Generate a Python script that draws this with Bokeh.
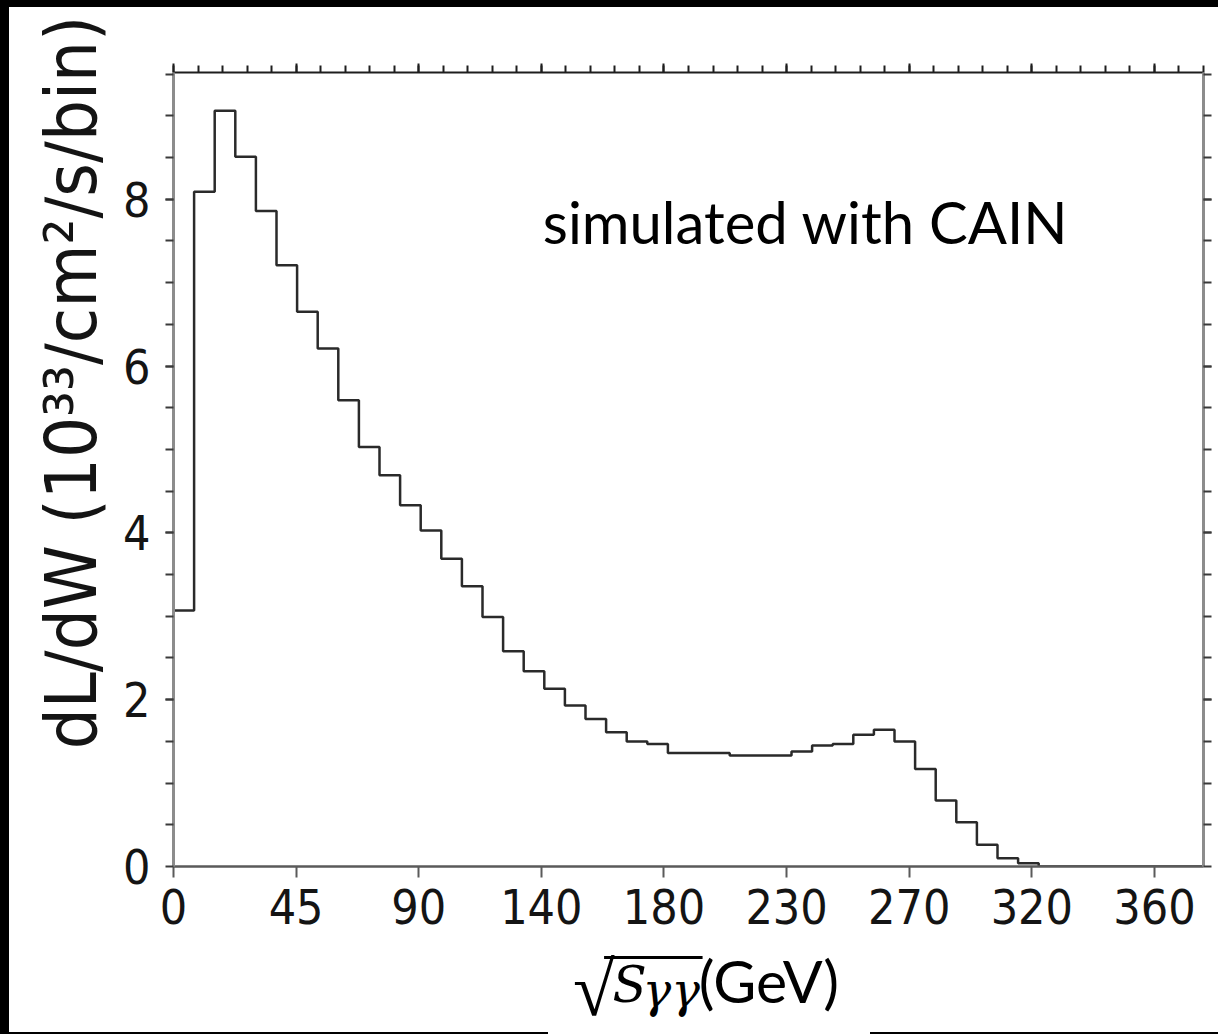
import math
import numpy as np
from bokeh.plotting import figure
from bokeh.models import Range1d, LinearAxis, FixedTicker, Label, BoxAnnotation, Spacer
from bokeh.layouts import row, column
from bokeh.embed import file_html
from bokeh.resources import INLINE

# ---------------- data ----------------
bin_values = [3.07, 8.09, 9.06, 8.51, 7.86, 7.21, 6.65, 6.21, 5.59, 5.03,
              4.69, 4.33, 4.03, 3.69, 3.36, 2.99, 2.58, 2.34, 2.13, 1.93,
              1.77, 1.61, 1.50, 1.47, 1.36, 1.36, 1.36, 1.33, 1.33, 1.33,
              1.38, 1.45, 1.47, 1.58, 1.64, 1.50, 1.17, 0.79, 0.53, 0.26,
              0.10, 0.04, 0.0, 0.0, 0.0, 0.0, 0.0, 0.0, 0.0, 0.0]
x_min, x_max = 0.0, 378.0            # sqrt(s_gg) histogram range (GeV), 50 bins
y_min, y_max = 0.0, 9.52
x_tick_values = [0, 45, 90, 135, 180, 225, 270, 315, 360]
x_tick_labels = ["0", "45", "90", "140", "180", "230", "270", "320", "360"]
y_tick_values = [0, 2, 4, 6, 8]
y_tick_labels = ["0", "2", "4", "6", "8"]
annotation_text = "simulated with CAIN"
y_title = "dL/dW (10\u00b3\u00b3/cm\u00b2/s/bin)"
x_title_parts = ["\u221a", "S", "\u03b3\u03b3", "(GeV)"]

# ---------------- page layout ----------------
PAGE_W, PAGE_H = 1218, 1034
TOP_BAND, LEFT_BAND, BOTTOM_BAND = 7, 9, 2
YT_W = 111                       # strip holding the y-axis title
MAIN_X0 = LEFT_BAND + YT_W       # 120
MAIN_W = PAGE_W - MAIN_X0        # 1098
MAIN_H = 938
XT_H = PAGE_H - TOP_BAND - BOTTOM_BAND - MAIN_H   # 87
ML, MR, MT, MB = 51, 15, 65, 79
FW, FH = MAIN_W - ML - MR, MAIN_H - MT - MB

# vertical centre of a text box above its baseline, in em ("middle" anchor)
MID_LATO = 0.387
MID_DEJAVU = 0.346
MID_LIBSERIF = 0.3375


def main_x(px):
    return x_min + (px - MAIN_X0 - ML) * (x_max - x_min) / FW


def main_y(py):
    return y_min + (TOP_BAND + MT + FH - py) * (y_max - y_min) / FH


TICK_FONT = "'DejaVu Sans Condensed', 'Liberation Sans Narrow', 'DejaVu Sans', sans-serif"

p = figure(width=MAIN_W, height=MAIN_H, x_range=Range1d(x_min, x_max), y_range=Range1d(y_min, y_max),
           x_axis_type=None, y_axis_type=None, output_backend="svg", toolbar_location=None,
           min_border_left=ML, min_border_right=MR, min_border_top=MT, min_border_bottom=MB)
p.outline_line_color = None
p.background_fill_color = "white"
p.border_fill_color = "white"

edges = np.linspace(x_min, x_max, len(bin_values) + 1)
p.step(x=list(edges), y=bin_values + [bin_values[-1]], mode="after",
       line_color="#2a2a2a", line_width=2.5)

y_minor = [0.5 * k for k in range(1, 20)]
x_minor = [9 * k for k in range(0, 43)]


def style_ticks(ax, color, out_major, out_minor, width=2):
    ax.major_tick_in = 0
    ax.minor_tick_in = 0
    ax.major_tick_out = out_major
    ax.minor_tick_out = out_minor
    ax.major_tick_line_color = color
    ax.minor_tick_line_color = color
    ax.major_tick_line_width = width
    ax.minor_tick_line_width = width


left = LinearAxis(ticker=FixedTicker(ticks=y_tick_values, minor_ticks=y_minor))
left.major_label_overrides = {v: s for v, s in zip(y_tick_values, y_tick_labels)}
left.axis_line_color = "#8c8c8c"
left.axis_line_width = 3
style_ticks(left, "#3a3a3a", 8, 8)
left.major_label_text_font = TICK_FONT
left.major_label_text_font_size = "48px"
left.major_label_text_color = "#141414"
left.major_label_standoff = 15
p.add_layout(left, "left")

bottom = LinearAxis(ticker=FixedTicker(ticks=x_tick_values, minor_ticks=[]))
bottom.major_label_overrides = {v: s for v, s in zip(x_tick_values, x_tick_labels)}
bottom.axis_line_color = "#5a5a5a"
bottom.axis_line_width = 2.5
style_ticks(bottom, "#5a5a5a", 11, 0)
bottom.major_label_text_font = TICK_FONT
bottom.major_label_text_font_size = "48px"
bottom.major_label_text_color = "#141414"
bottom.major_label_standoff = 11
p.add_layout(bottom, "below")

top = LinearAxis(ticker=FixedTicker(ticks=x_tick_values, minor_ticks=x_minor))
top.major_label_overrides = {v: "" for v in x_tick_values}
top.major_label_standoff = 0
top.major_label_text_font_size = "1px"
top.axis_line_color = "#1e1e1e"
top.axis_line_width = 2
style_ticks(top, "#1e1e1e", 9, 7)
p.add_layout(top, "above")

right = LinearAxis(ticker=FixedTicker(ticks=y_tick_values, minor_ticks=y_minor))
right.major_label_overrides = {v: "" for v in y_tick_values}
right.major_label_standoff = 0
right.major_label_text_font_size = "1px"
right.axis_line_color = "#8c8c8c"
right.axis_line_width = 3
style_ticks(right, "#3a3a3a", 8, 8)
p.add_layout(right, "right")

# in-plot annotation (baseline at page y=243, left at x=541)
p.add_layout(Label(x=main_x(541), y=main_y(243 - MID_LATO * 58), text=annotation_text,
                   text_font="Lato", text_font_size="58px", text_color="black",
                   text_align="left", text_baseline="middle"))

# ---------------- y-axis title strip ----------------
YT_H = PAGE_H - TOP_BAND - BOTTOM_BAND
yt = figure(width=YT_W, height=YT_H, x_range=Range1d(0, YT_W), y_range=Range1d(0, YT_H),
            x_axis_type=None, y_axis_type=None, output_backend="svg", toolbar_location=None,
            min_border=0, min_border_left=0, min_border_right=0, min_border_top=0, min_border_bottom=0)
yt.outline_line_color = None
yt.background_fill_color = "white"
yt.border_fill_color = "white"
yt.add_layout(Label(x=(95 - MID_DEJAVU * 72) - LEFT_BAND, y=YT_H - (382 - TOP_BAND), text=y_title,
                    angle=math.pi / 2, text_font=TICK_FONT, text_font_size="72px",
                    text_color="#141414", text_align="center", text_baseline="middle"))

# ---------------- x-axis title strip ----------------
xt = figure(width=MAIN_W, height=XT_H, x_range=Range1d(0, MAIN_W), y_range=Range1d(0, XT_H),
            x_axis_type=None, y_axis_type=None, output_backend="svg", toolbar_location=None,
            min_border=0, min_border_left=0, min_border_right=0, min_border_top=0, min_border_bottom=0)
xt.outline_line_color = None
xt.background_fill_color = "white"
xt.border_fill_color = "white"
XT_Y0 = TOP_BAND + MAIN_H   # page y of strip top (945)
XT_SHIFT = -17              # empirical horizontal correction of this strip


def xt_x(px):
    return px - MAIN_X0 + XT_SHIFT


def xt_y(py):
    return XT_H - (py - XT_Y0)


xt.add_layout(Label(x=xt_x(563), y=xt_y(988.5), text=x_title_parts[0],
                    text_font="Liberation Serif", text_font_size="76px", text_color="black",
                    text_align="left", text_baseline="middle"))
xt.add_layout(BoxAnnotation(left=xt_x(596), right=xt_x(701), top=xt_y(955.5), bottom=xt_y(958.5),
                            fill_color="black", fill_alpha=1.0, line_color=None))
xt.add_layout(Label(x=xt_x(605), y=xt_y(1002 - MID_DEJAVU * 50), text=x_title_parts[1],
                    text_font="DejaVu Serif", text_font_style="italic", text_font_size="50px",
                    text_color="black", text_align="left", text_baseline="middle"))
xt.add_layout(Label(x=xt_x(637), y=xt_y(1006 - MID_DEJAVU * 48), text=x_title_parts[2],
                    text_font="DejaVu Serif", text_font_style="italic", text_font_size="48px",
                    text_color="black", text_align="left", text_baseline="middle"))
xt.add_layout(Label(x=xt_x(697), y=xt_y(1003 - MID_LATO * 59), text=x_title_parts[3],
                    text_font="Lato", text_font_size="59px", text_color="black",
                    text_align="left", text_baseline="middle"))

BLACK = {"background-color": "#000000"}
WHITE = {"background-color": "#ffffff"}
layout = column(
    Spacer(width=PAGE_W, height=TOP_BAND, styles=BLACK),
    row(Spacer(width=LEFT_BAND, height=YT_H, styles=BLACK), yt, column(p, xt)),
    row(Spacer(width=548, height=BOTTOM_BAND, styles=BLACK),
        Spacer(width=322, height=BOTTOM_BAND, styles=WHITE),
        Spacer(width=PAGE_W - 870, height=BOTTOM_BAND, styles=BLACK)),
)

open("out.html", "w").write(file_html(layout, INLINE, title="dL/dW"))
